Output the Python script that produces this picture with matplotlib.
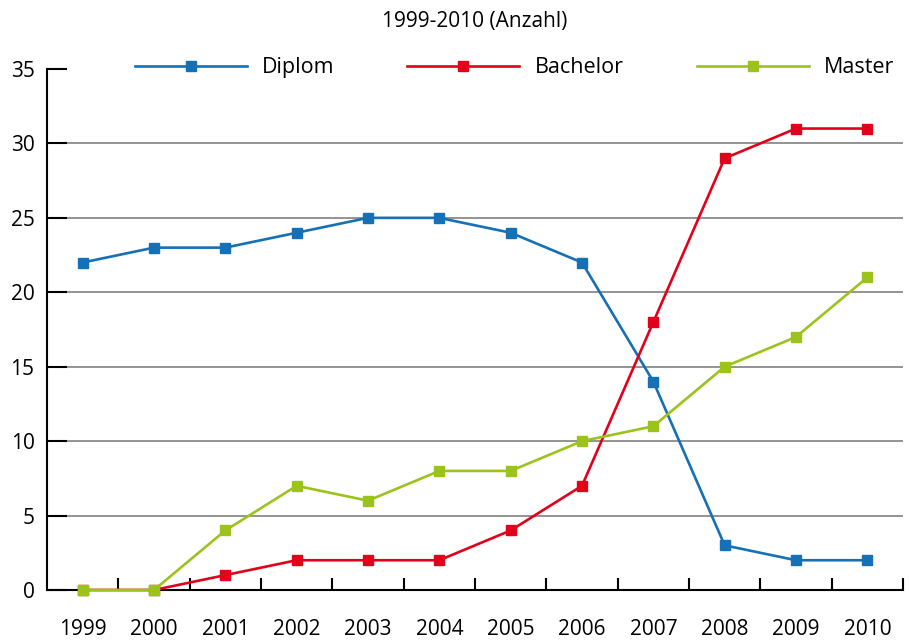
import matplotlib
matplotlib.use("Agg")
import matplotlib.pyplot as plt
import numpy as np

years = ["1999", "2000", "2001", "2002", "2003", "2004", "2005",
         "2006", "2007", "2008", "2009", "2010"]
diplom = [22, 23, 23, 24, 25, 25, 24, 22, 14, 3, 2, 2]
bachelor = [0, 0, 1, 2, 2, 2, 4, 7, 18, 29, 31, 31]
master = [0, 0, 4, 7, 6, 8, 8, 10, 11, 15, 17, 21]
y_ticks = [0, 5, 10, 15, 20, 25, 30, 35]

plt.rcParams['font.family'] = ['Open Sans', 'DejaVu Sans']

fig = plt.figure(figsize=(9.09, 6.43), dpi=100)
ax = fig.add_axes([47 / 909, 53 / 643, 856 / 909, 521 / 643])

x = np.arange(len(years))

# gridlines (not at the top value)
for v in y_ticks[1:-1]:
    ax.axhline(v, color='#808080', lw=1.2, zorder=1)

series = [("Diplom", diplom, '#1570b6'),
          ("Bachelor", bachelor, '#e2001a'),
          ("Master", master, '#9cc31b')]
for name, vals, col in series:
    ax.plot(x, vals, color=col, lw=1.9, marker='s', markersize=7.5,
            label=name, zorder=3, clip_on=False)

ax.set_xlim(-0.5, len(years) - 0.5)
ax.set_ylim(0, 35)
ax.set_yticks(y_ticks)
ax.set_yticklabels([str(v) for v in y_ticks], fontsize=15)
ax.set_xticks(x + 0.5)
ax.set_xticklabels([])
ax.set_xticks(x, minor=True)
ax.set_xticklabels(years, minor=True, fontsize=15)
ax.tick_params(axis='y', direction='in', length=14.5, width=1.5, pad=9)
ax.tick_params(axis='x', which='major', direction='in', length=9, width=1.5)
ax.tick_params(axis='x', which='minor', length=0, pad=21)

for s in ['top', 'right']:
    ax.spines[s].set_visible(False)
ax.spines['left'].set_linewidth(1.5)
ax.spines['bottom'].set_linewidth(1.5)

ax.legend(loc='center', bbox_to_anchor=(0.546, 1.002), ncol=3, frameon=False,
          fontsize=15.5, handlelength=5.2, handletextpad=0.7, columnspacing=3.4)

fig.text(0.5 * (47 + 903) / 909, 1 - 21 / 643, "1999-2010 (Anzahl)",
         ha='center', va='center', fontsize=15)

fig.savefig("out.png", dpi=100)
